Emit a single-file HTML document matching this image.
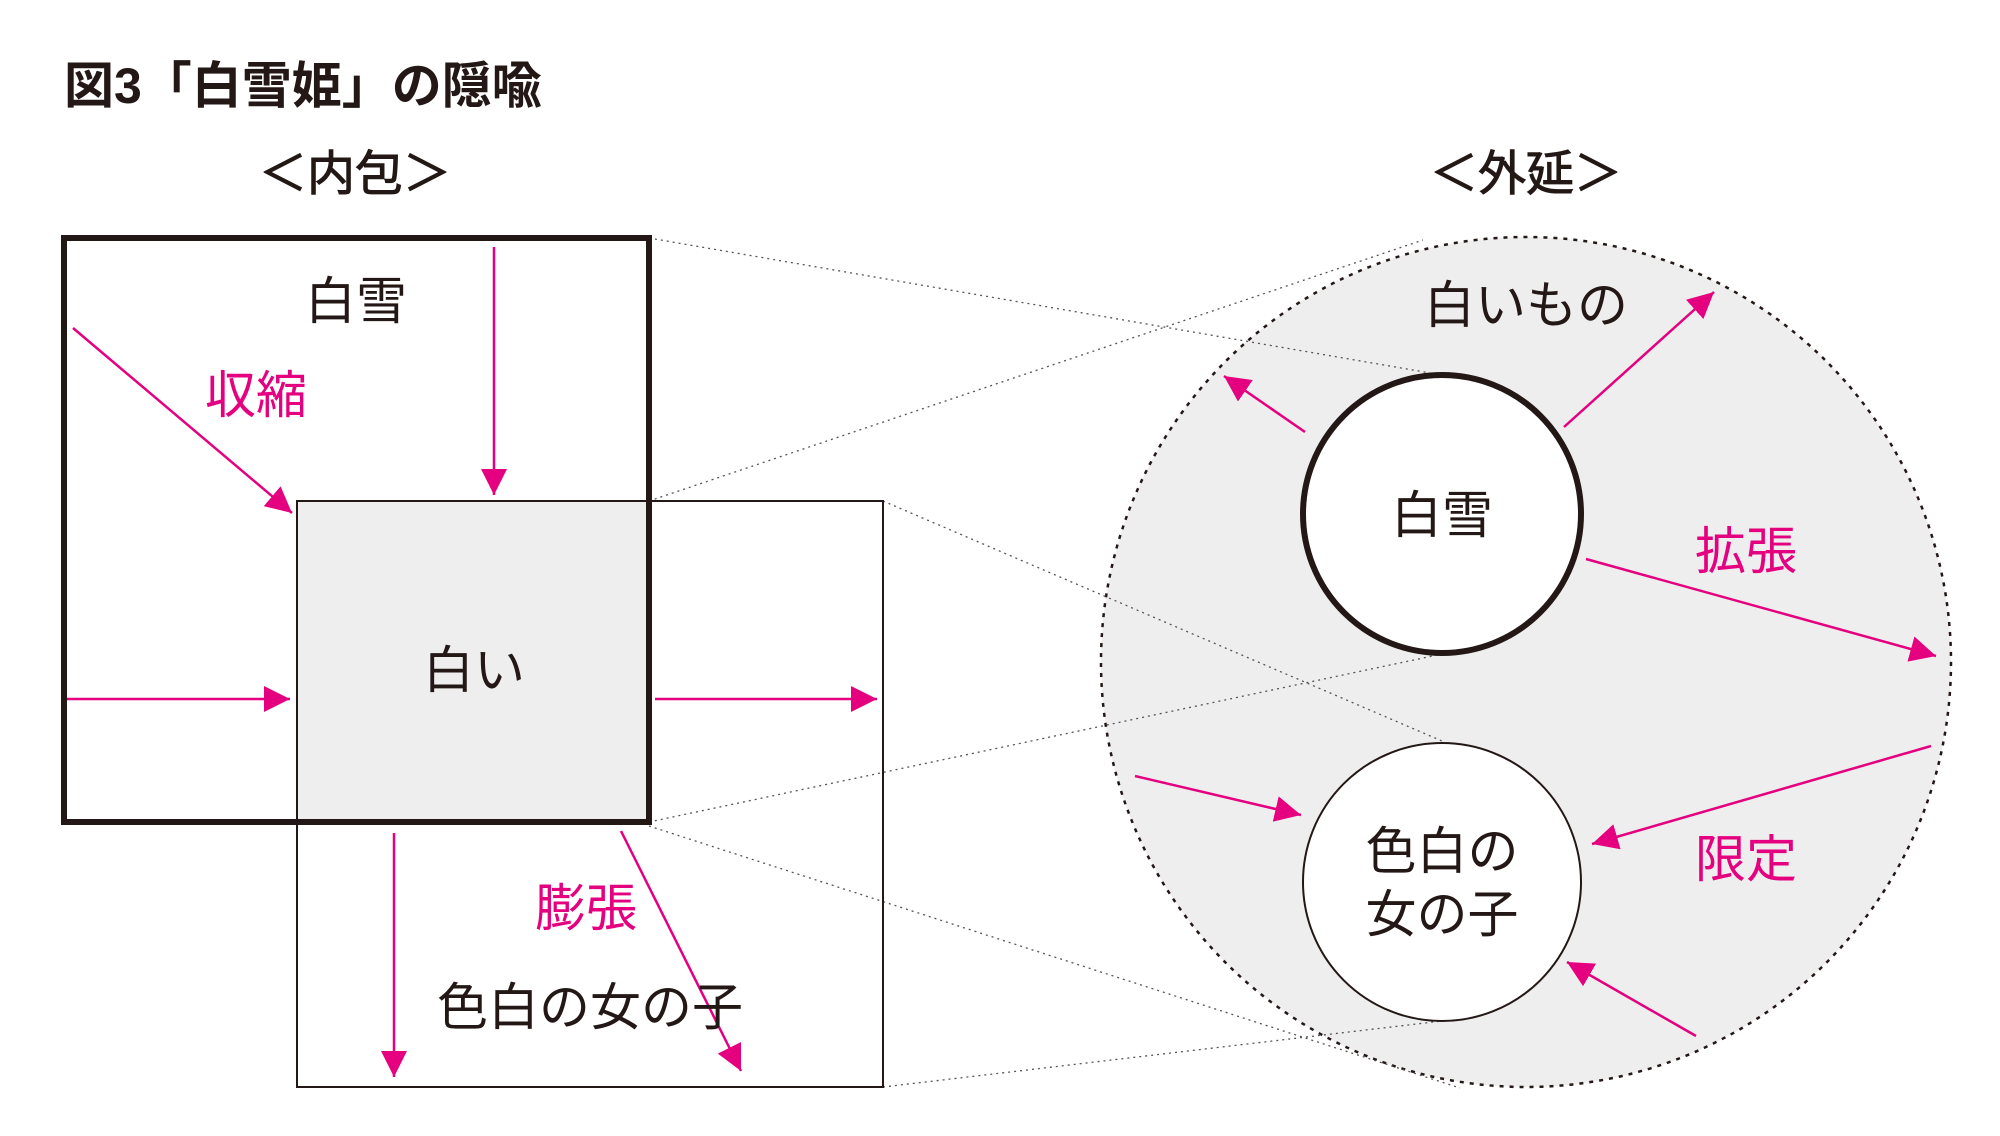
<!DOCTYPE html>
<html><head><meta charset="utf-8"><style>
html,body{margin:0;padding:0;background:#fff;}
svg{display:block;}
text{font-family:"Liberation Sans","Noto Sans CJK JP",sans-serif;}
</style></head><body>
<svg width="2000" height="1136" viewBox="0 0 2000 1136" xmlns="http://www.w3.org/2000/svg">
<defs>
<marker id="a" viewBox="0 0 10 10" refX="10" refY="5" markerWidth="26" markerHeight="26" markerUnits="userSpaceOnUse" orient="auto"><path d="M0,0 L10,5 L0,10 z" fill="#e4007f"/></marker>
</defs>
<text x="64" y="103" font-size="50" font-weight="bold" fill="#231815">図3「白雪姫」の隠喩</text>
<text x="355" y="190" font-size="48" text-anchor="middle" fill="#231815" stroke="#231815" stroke-width="1">＜内包＞</text>
<text x="1526" y="190" font-size="48" text-anchor="middle" fill="#231815" stroke="#231815" stroke-width="1">＜外延＞</text>

<circle cx="1526" cy="662" r="425" fill="#eeeeee" stroke="#231815" stroke-width="2.5" stroke-dasharray="4,6"/>

<g stroke="#555" stroke-width="1.3" stroke-dasharray="2,4" fill="none">
<line x1="649" y1="238" x2="1436" y2="374"/>
<line x1="649" y1="501" x2="1423" y2="240"/>
<line x1="883" y1="501" x2="1442" y2="741"/>
<line x1="649" y1="822" x2="1442" y2="654"/>
<line x1="649" y1="826" x2="1460" y2="1088"/>
<line x1="883" y1="1087" x2="1442" y2="1021"/>
</g>

<rect x="297" y="501" width="586" height="586" fill="none" stroke="#231815" stroke-width="2"/>
<rect x="297" y="501" width="352" height="321" fill="#eeeeee" stroke="#231815" stroke-width="2"/>
<rect x="64" y="238" width="585" height="584" fill="none" stroke="#231815" stroke-width="6"/>

<circle cx="1442" cy="514" r="139" fill="#fff" stroke="#231815" stroke-width="6"/>
<circle cx="1442" cy="882" r="139" fill="#fff" stroke="#231815" stroke-width="2"/>

<g stroke="#e4007f" stroke-width="2.5" fill="none" marker-end="url(#a)">
<line x1="73" y1="328" x2="292" y2="513"/>
<line x1="494" y1="247" x2="494" y2="495"/>
<line x1="67" y1="699" x2="290" y2="699"/>
<line x1="655" y1="699" x2="877" y2="699"/>
<line x1="394" y1="833" x2="394" y2="1077"/>
<line x1="621" y1="831" x2="741" y2="1071"/>
<line x1="1305" y1="432" x2="1224" y2="376"/>
<line x1="1564" y1="427" x2="1714" y2="292"/>
<line x1="1586" y1="559" x2="1936" y2="656"/>
<line x1="1135" y1="776" x2="1301" y2="815"/>
<line x1="1931" y1="746" x2="1592" y2="844"/>
<line x1="1696" y1="1036" x2="1567" y2="962"/>
</g>

<g font-size="51" fill="#231815" text-anchor="middle">
<text x="356" y="319">白雪</text>
<text x="474" y="688">白い</text>
<text x="590" y="1025">色白の女の子</text>
<text x="1526" y="323">白いもの</text>
<text x="1442" y="533">白雪</text>
<text x="1442" y="869">色白の</text>
<text x="1442" y="932">女の子</text>
</g>
<g font-size="51" fill="#e4007f" text-anchor="middle">
<text x="256" y="413">収縮</text>
<text x="586" y="926">膨張</text>
<text x="1746" y="569">拡張</text>
<text x="1746" y="877">限定</text>
</g>
</svg>
</body></html>
